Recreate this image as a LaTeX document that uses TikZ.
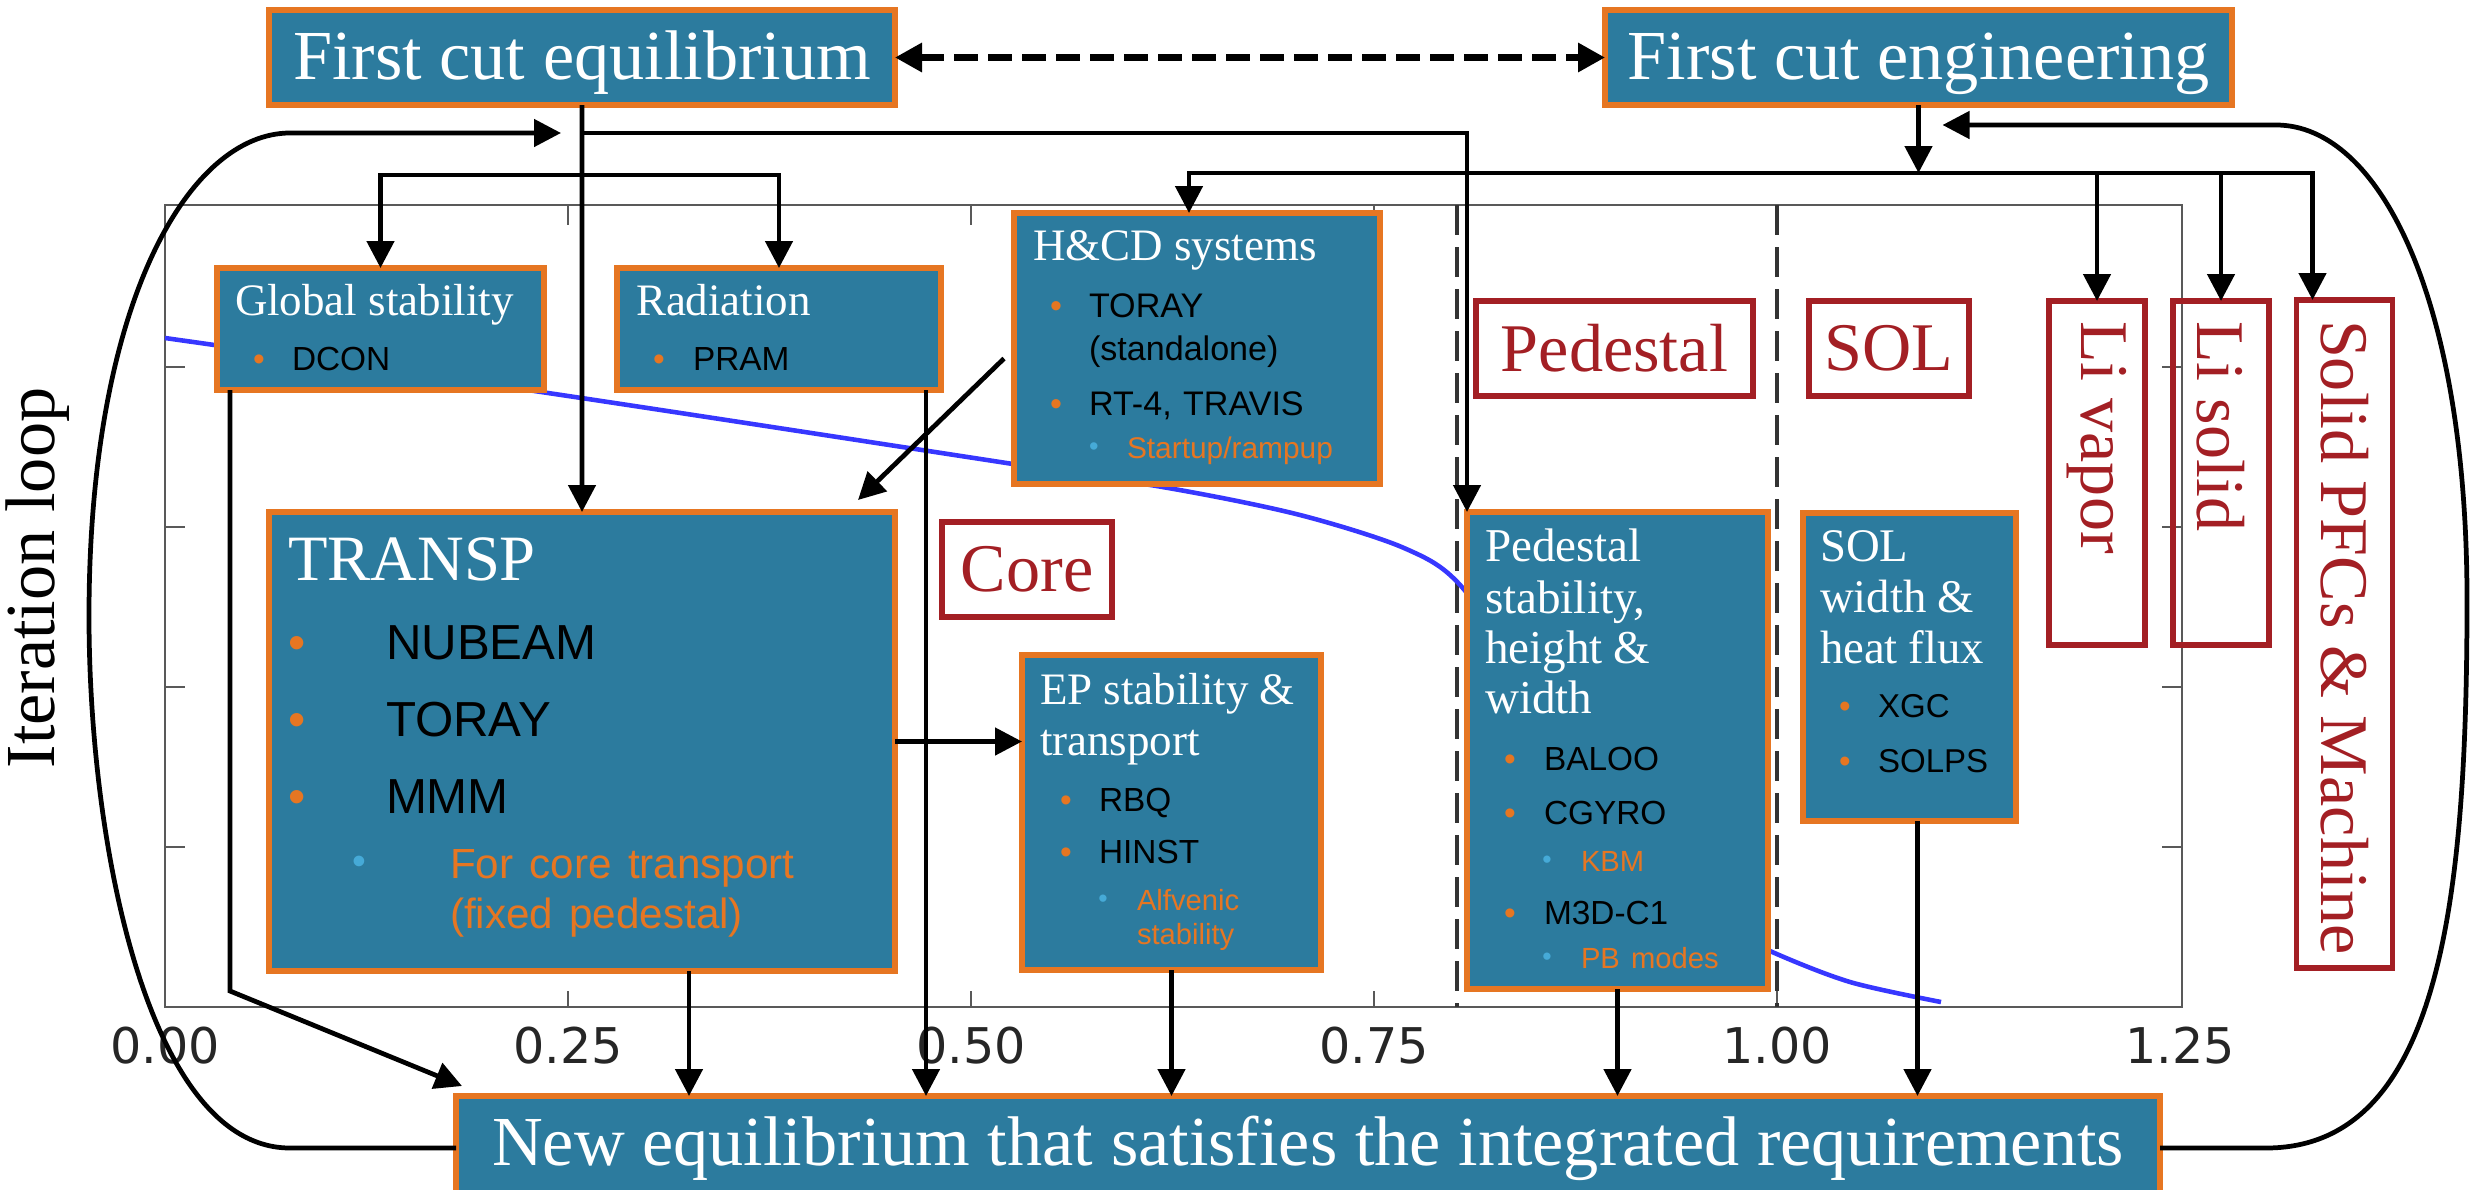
\documentclass[tikz,border=0pt]{standalone}
\usepackage{fontspec}
\setmainfont{Liberation Serif}
\newfontfamily\itemfont{Liberation Sans}
\newfontfamily\tickfont{DejaVu Sans}
\usepackage{graphicx}
\usepackage{xcolor}
\usetikzlibrary{arrows.meta,positioning,calc}

\definecolor{boxteal}{RGB}{44,123,158}
\definecolor{edgeorange}{RGB}{230,118,34}
\definecolor{lblred}{RGB}{163,31,36}
\definecolor{subblue}{RGB}{70,170,215}
\definecolor{curveblue}{RGB}{55,55,255}

\newcommand{\btitle}[2]{{\rmfamily\fontsize{#1}{0pt}\selectfont\textcolor{white}{#2}}}
\newcommand{\bitem}[3][0.24cm]{\hspace*{#1}\makebox[0pt]{\textcolor{edgeorange}{\textbullet}}\hspace*{#2}#3}
\newcommand{\sbitem}[3][0.62cm]{\hspace*{#1}\makebox[0pt]{\textcolor{subblue}{\raisebox{0.08em}{\scalebox{0.8}{\textbullet}}}}\hspace*{#2}\textcolor{edgeorange}{#3}}

\begin{document}
\begin{tikzpicture}[
  panel/.style={draw=edgeorange, line width=1.7pt, fill=boxteal, outer sep=0pt, inner ysep=0pt, anchor=north west, align=left, text=black},
  headline/.style={draw=edgeorange, line width=1.7pt, fill=boxteal, outer sep=0pt, inner sep=0pt, text=white, font=\fontsize{20pt}{24pt}\selectfont, minimum height=0.95cm, text height=15pt, text depth=2.2pt},
  tag/.style={draw=lblred, line width=1.5pt, outer sep=0pt, inner sep=0pt, text=lblred, font=\fontsize{19.4pt}{23pt}\selectfont, minimum height=0.95cm},
  vtag/.style={tag, anchor=north, minimum height=0pt, minimum width=0.96cm, inner ysep=0.2cm, text height=0pt},
  arrow/.style={-{Triangle[length=0.27cm,width=0.27cm]}, line width=1.35pt},
  duallink/.style={{Triangle[length=0.27cm,width=0.28cm]}-{Triangle[length=0.27cm,width=0.28cm]}, line width=1.8pt, dash pattern=on 0.24cm off 0.1cm},
  axisline/.style={black!65, line width=0.7pt},
  ticklabel/.style={font=\tickfont\fontsize{14pt}{16pt}\selectfont, text=black!85}
]
  \useasboundingbox (0,0) rectangle (24.71,-11.89);

  % plot in the background
  \draw[axisline] (1.65,-2.05) rectangle (21.82,-10.07);
  \draw[axisline] (5.68,-10.07) -- ++(0,0.16) (9.71,-10.07) -- ++(0,0.16) (13.74,-10.07) -- ++(0,0.16) (17.77,-10.07) -- ++(0,0.16)
    (5.68,-2.05) -- ++(0,-0.2) (9.71,-2.05) -- ++(0,-0.2) (13.74,-2.05) -- ++(0,-0.2)
    (1.65,-3.67) -- ++(0.2,0) (1.65,-5.27) -- ++(0.2,0) (1.65,-6.87) -- ++(0.2,0) (1.65,-8.47) -- ++(0.2,0)
    (21.82,-3.67) -- ++(-0.2,0) (21.82,-5.27) -- ++(-0.2,0) (21.82,-6.87) -- ++(-0.2,0) (21.82,-8.47) -- ++(-0.2,0);
  \draw[black!80, line width=1pt, dash pattern=on 0.3cm off 0.12cm] (14.57,-2.05) -- (14.57,-10.07) (17.77,-2.05) -- (17.77,-10.07);
  \draw[curveblue, line width=1.3pt] plot[smooth] coordinates {(1.65,-3.38) (5.48,-3.93) (10.0,-4.62) (11.74,-4.89) (13.0,-5.15) (14.04,-5.48) (14.61,-5.86) (15.4,-7.0) (16.3,-8.4) (17.0,-9.15) (17.70,-9.51) (18.5,-9.82) (19.41,-10.02)};
  \node[ticklabel] (t_000) at (1.65,-10.46) {0.00};
  \node[ticklabel] (t_025) at (5.68,-10.46) {0.25};
  \node[ticklabel] (t_050) at (9.71,-10.46) {0.50};
  \node[ticklabel] (t_075) at (13.74,-10.46) {0.75};
  \node[ticklabel] (t_100) at (17.77,-10.46) {1.00};
  \node[ticklabel] (t_125) at (21.80,-10.46) {1.25};

  \node[headline, minimum width=6.26cm] (cut_eq) at (5.82,-0.575) {First cut equilibrium};
  \node[headline, minimum width=6.27cm, right=7.10cm of cut_eq] (cut_eng) {First cut engineering};
  \node[headline, anchor=north west, minimum width=17.04cm, minimum height=1.04cm, text height=14pt, text depth=4pt] (new_eq) at (4.56,-10.96) {New equilibrium that satisfies the integrated requirements};
  \node[rotate=90, font=\fontsize{20pt}{24pt}\selectfont] (iter) at (0.375,-5.78) {Iteration loop};

  \node[panel, text width=2.91cm, inner xsep=0.18cm, text height=0.47cm, text depth=0.75cm, font=\itemfont\fontsize{9.5pt}{0.55cm}\selectfont] (glob) at (2.17,-2.68) {
    \btitle{12.8pt}{Global~stability}\\
    \bitem{0.33cm}{DCON}};
  \node[panel, right=0.73cm of glob, text width=2.86cm, inner xsep=0.19cm, text height=0.47cm, text depth=0.75cm, font=\itemfont\fontsize{9.5pt}{0.55cm}\selectfont] (rad) {
    \btitle{12.8pt}{Radiation}\\
    \bitem[0.23cm]{0.34cm}{PRAM}};
  \node[panel, text width=3.28cm, inner xsep=0.19cm, text height=0.47cm, text depth=2.24cm, font=\itemfont\fontsize{9.7pt}{0.43cm}\selectfont] (hcd) at (10.14,-2.13) {
    \btitle{12.8pt}{H\&CD~systems}\\[0.14cm]
    \bitem[0.23cm]{0.33cm}{TORAY}\\
    \hspace*{0.56cm}(standalone)\\[0.12cm]
    \bitem[0.23cm]{0.33cm}{RT-4,~TRAVIS}\\
    \sbitem[0.61cm]{0.33cm}{\fontsize{8.5pt}{0pt}\selectfont Startup/rampup}};
  \node[panel, text width=5.88cm, inner xsep=0.19cm, text height=0.68cm, text depth=3.91cm, font=\itemfont\fontsize{14pt}{0.77cm}\selectfont] (transp) at (2.69,-5.12) {
    \btitle{18.4pt}{TRANSP}\\[0.025cm]
    \bitem[0.09cm]{0.89cm}{NUBEAM}\\
    \bitem[0.09cm]{0.89cm}{TORAY}\\
    \bitem[0.09cm]{0.89cm}{MMM}\\[-0.125cm]
    \sbitem[0.71cm]{0.91cm}{\fontsize{12pt}{0pt}\selectfont For~core~transport}\\[-0.27cm]
    \hspace*{1.62cm}\textcolor{edgeorange}{\fontsize{12pt}{0pt}\selectfont (fixed~pedestal)}};
  \node[panel, text width=2.63cm, inner xsep=0.18cm, text height=0.49cm, text depth=2.66cm, font=\itemfont\fontsize{9.5pt}{0.52cm}\selectfont] (ep) at (10.22,-6.55) {
    \btitle{12.8pt}{EP~stability~\&}\\[-0.01cm]
    \btitle{12.8pt}{transport}\\[0.04cm]
    \bitem[0.26cm]{0.33cm}{RBQ}\\
    \bitem[0.26cm]{0.33cm}{HINST}\\[-0.05cm]
    \sbitem[0.63cm]{0.34cm}{\fontsize{8.3pt}{0pt}\selectfont Alfvenic}\\[-0.18cm]
    \hspace*{0.97cm}\textcolor{edgeorange}{\fontsize{8.3pt}{0pt}\selectfont stability}};
  \node[panel, text width=2.65cm, inner xsep=0.18cm, text height=0.49cm, text depth=4.28cm, font=\itemfont\fontsize{9.5pt}{0.50cm}\selectfont] (ped) at (14.67,-5.12) {
    \btitle{13.4pt}{Pedestal}\\[0.025cm]
    \btitle{13.4pt}{stability,}\\
    \btitle{13.4pt}{height~\&}\\
    \btitle{13.4pt}{width}\\[0.07cm]
    \bitem[0.25cm]{0.34cm}{BALOO}\\[0.04cm]
    \bitem[0.25cm]{0.34cm}{CGYRO}\\[-0.03cm]
    \sbitem[0.62cm]{0.34cm}{\fontsize{8.3pt}{0pt}\selectfont KBM}\\[0.03cm]
    \bitem[0.25cm]{0.34cm}{M3D-C1}\\[-0.06cm]
    \sbitem[0.62cm]{0.34cm}{\fontsize{8.3pt}{0pt}\selectfont PB~modes}};
  \node[panel, text width=1.79cm, inner xsep=0.17cm, text height=0.48cm, text depth=2.60cm, font=\itemfont\fontsize{9.4pt}{0.51cm}\selectfont] (sol) at (18.03,-5.13) {
    \btitle{13.3pt}{SOL}\\
    \btitle{13.3pt}{width~\&}\\
    \btitle{13.3pt}{heat~flux}\\[0.03cm]
    \bitem[0.25cm]{0.33cm}{XGC}\\[0.04cm]
    \bitem[0.25cm]{0.33cm}{SOLPS}};

  \node[tag, minimum width=1.70cm] (core_lbl) at (10.27,-5.695) {Core};
  \node[tag, minimum width=2.77cm] (ped_lbl) at (16.145,-3.485) {Pedestal};
  \node[tag, minimum width=1.60cm, right=0.56cm of ped_lbl] (sol_lbl) {SOL};
  \node[vtag, text depth=3.04cm] (li_vap) at (20.97,-3.01) {\rotatebox{-90}{Li vapor}};
  \node[vtag, text depth=3.04cm] (li_sol) at (22.21,-3.01) {\rotatebox{-90}{Li solid}};
  \node[vtag, text depth=6.28cm] (pfc) at (23.445,-3.00) {\rotatebox{-90}{Solid PFCs \& Machine}};

  \coordinate (j_eq) at ($(cut_eq.south)+(0,-0.28)$);
  \coordinate (j_stab) at ($(cut_eq.south)+(0,-0.70)$);
  \coordinate (j_eng) at ($(cut_eng.south)+(0,-0.68)$);
  \coordinate (loop_l) at ($(j_eq)+(-0.21,0)$);
  \coordinate (loop_r) at ($(j_eng)+(0.24,0.48)$);

  \draw[duallink] (cut_eq) -- (cut_eng);
  \draw[arrow] (cut_eq) -- (transp);
  \draw[arrow] (j_eq) -| (ped.north west);
  \draw[arrow] (j_stab) -| (glob);
  \draw[arrow] (j_stab) -| (rad);
  \draw[arrow] ([shift={(-0.10,-0.10)}]hcd.west) -- ([shift={(-0.37,0.12)}]transp.north east);
  \draw[arrow] (transp.east) -- (transp.east -| ep.west);
  \draw[arrow] ([xshift=1.07cm]transp.south) -- ([xshift=1.07cm]transp.south |- new_eq.north);
  \draw[arrow] ([xshift=0.13cm]glob.south west) -- ($(glob.south west)+(0.13,-6.01)$) -- ([shift={(0.06,0.10)}]new_eq.north west);
  \draw[arrow] ([xshift=-0.15cm]rad.south east) -- ([xshift=-0.15cm]rad.south east |- new_eq.north);
  \draw[arrow] (ep) -- (ep |- new_eq.north);
  \draw[arrow] (ped) -- (ped |- new_eq.north);
  \draw[arrow] ([xshift=0.08cm]sol.south) -- ([xshift=0.08cm]sol.south |- new_eq.north);
  \draw[arrow] (cut_eng) -- (j_eng);
  \draw[arrow] (j_eng) -| ([xshift=-0.08cm]hcd.north);
  \draw[arrow] (j_eng) -| (li_vap);
  \draw[arrow] (j_eng) -| (li_sol);
  \draw[arrow] (j_eng) -| ([xshift=-0.32cm]pfc.north);
  \draw[arrow] (new_eq.west) -- (2.90,-11.48) .. controls (1.50,-11.48) and (0.89,-8.50) .. (0.89,-6.16) .. controls (0.89,-3.00) and (1.90,-1.33) .. (2.90,-1.33) -- (loop_l);
  \draw[arrow] (new_eq.east) -- (22.66,-11.48) .. controls (24.40,-11.48) and (24.67,-9.00) .. (24.67,-6.00) .. controls (24.67,-3.00) and (23.80,-1.25) .. (22.76,-1.25) -- (loop_r);
\end{tikzpicture}
\end{document}
